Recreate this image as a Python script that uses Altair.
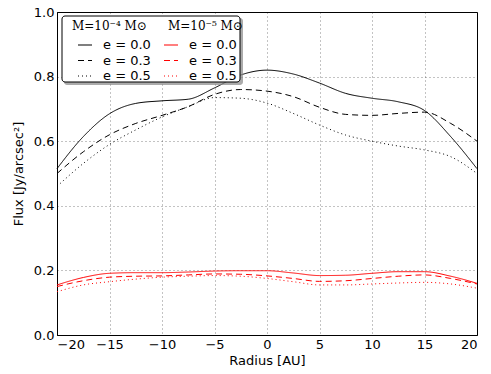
import altair as alt
import pandas as pd

radius = [-20, -17.5, -15, -12.5, -10, -7.5, -5, -2.5, 0, 2.5, 5, 7.5, 10, 12.5, 15, 17.5, 20]

m4_e00 = [0.515, 0.614, 0.685, 0.717, 0.725, 0.730, 0.765, 0.805, 0.820, 0.808, 0.780, 0.748, 0.733, 0.722, 0.695, 0.614, 0.515]
m4_e03 = [0.500, 0.567, 0.620, 0.655, 0.680, 0.707, 0.745, 0.760, 0.755, 0.738, 0.705, 0.683, 0.680, 0.686, 0.690, 0.655, 0.600]
m4_e05 = [0.460, 0.531, 0.590, 0.635, 0.675, 0.707, 0.735, 0.733, 0.718, 0.686, 0.650, 0.619, 0.600, 0.585, 0.573, 0.552, 0.500]

m5_e00 = [0.155, 0.178, 0.191, 0.193, 0.193, 0.195, 0.198, 0.199, 0.199, 0.192, 0.184, 0.185, 0.191, 0.196, 0.196, 0.182, 0.160]
m5_e03 = [0.150, 0.168, 0.179, 0.182, 0.183, 0.186, 0.189, 0.188, 0.183, 0.175, 0.166, 0.168, 0.175, 0.182, 0.186, 0.175, 0.158]
m5_e05 = [0.134, 0.155, 0.165, 0.173, 0.179, 0.182, 0.184, 0.182, 0.175, 0.165, 0.155, 0.155, 0.158, 0.161, 0.163, 0.158, 0.145]

e_labels = ["e = 0.0", "e = 0.3", "e = 0.5"]
mass_titles = ["M=10\u207b\u2074 M\u2299", "M=10\u207b\u2075 M\u2299"]
dashes = [[1, 0], [6, 4], [1, 3]]

rows = []
for lab, ser in zip(e_labels, [m4_e00, m4_e03, m4_e05]):
    for r, f in zip(radius, ser):
        rows.append({"r": r, "flux": f, "e": lab, "mass": "m4"})
for lab, ser in zip(e_labels, [m5_e00, m5_e03, m5_e05]):
    for r, f in zip(radius, ser):
        rows.append({"r": r, "flux": f, "e": lab, "mass": "m5"})
df = pd.DataFrame(rows)

xenc = alt.X("r:Q", scale=alt.Scale(domain=[-20, 20], nice=False),
             axis=alt.Axis(values=list(range(-20, 21, 5)), title="Radius [AU]",
                           format="d", labelExpr="replace(datum.label, '-', '\u2212')"))
yenc = alt.Y("flux:Q", scale=alt.Scale(domain=[0, 1], nice=False),
             axis=alt.Axis(values=[0, 0.2, 0.4, 0.6, 0.8, 1.0], format=".1f",
                           title="Flux [Jy/arcsec\u00b2]"))

def legend(x, color):
    return alt.Legend(title=None, orient="none", legendX=x, legendY=25,
                      symbolType="stroke", symbolStrokeColor=color,
                      symbolStrokeWidth=1.2, symbolSize=196,
                      labelFont="DejaVu Sans", labelFontSize=13, labelColor="black",
                      rowPadding=0.5, labelOffset=10)

black = alt.Chart(df).transform_filter(alt.datum.mass == "m4").mark_line(
    color="black", strokeWidth=1, interpolate="monotone").encode(
    x=xenc, y=yenc,
    strokeDash=alt.StrokeDash("e:N", scale=alt.Scale(domain=e_labels, range=dashes),
                              legend=legend(20, "black")))

red = alt.Chart(df).transform_filter(alt.datum.mass == "m5").mark_line(
    color="red", strokeWidth=1, interpolate="monotone").encode(
    x=xenc, y=yenc,
    strokeDash=alt.StrokeDash("e:N", scale=alt.Scale(domain=e_labels, range=dashes),
                              legend=legend(106, "red")))

one = pd.DataFrame({"a": [0]})
shadow = alt.Chart(one).mark_rect(fill="#888888", opacity=0.7, cornerRadius=3).encode(
    x=alt.value(7), x2=alt.value(186), y=alt.value(6), y2=alt.value(73))
box = alt.Chart(one).mark_rect(fill="white", stroke="black", strokeWidth=1, cornerRadius=3).encode(
    x=alt.value(5), x2=alt.value(183), y=alt.value(4), y2=alt.value(70))

title_style = dict(font="DejaVu Serif", fontSize=12, color="black", align="left", baseline="alphabetic")
title1 = alt.Chart(pd.DataFrame({"t": [mass_titles[0]]})).mark_text(**title_style).encode(
    text="t:N", x=alt.value(15), y=alt.value(18))
title2 = alt.Chart(pd.DataFrame({"t": [mass_titles[1]]})).mark_text(**title_style).encode(
    text="t:N", x=alt.value(111), y=alt.value(18))

chart = alt.layer(black, red, shadow, box, title1, title2).resolve_scale(strokeDash="independent").properties(
    width=420, height=323,
    autosize=alt.AutoSizeParams(type="none"),
    padding={"left": 49, "top": 4, "right": 6, "bottom": 40},
).configure_view(stroke="black", strokeWidth=1).configure_axis(
    grid=True, gridColor="#000000", gridOpacity=0.6, gridDash=[1, 3], gridWidth=0.8,
    domainColor="black", domainWidth=1, ticks=False,
    labelFont="DejaVu Sans", labelFontSize=13, labelColor="black",
    titleFont="DejaVu Sans", titleFontSize=13, titleFontWeight="normal", titleColor="black",
    labelPadding=3,
).configure_axisX(titlePadding=3).configure_axisY(titlePadding=8)

chart.save("out.html", embed_options={"renderer": "svg", "actions": False})
